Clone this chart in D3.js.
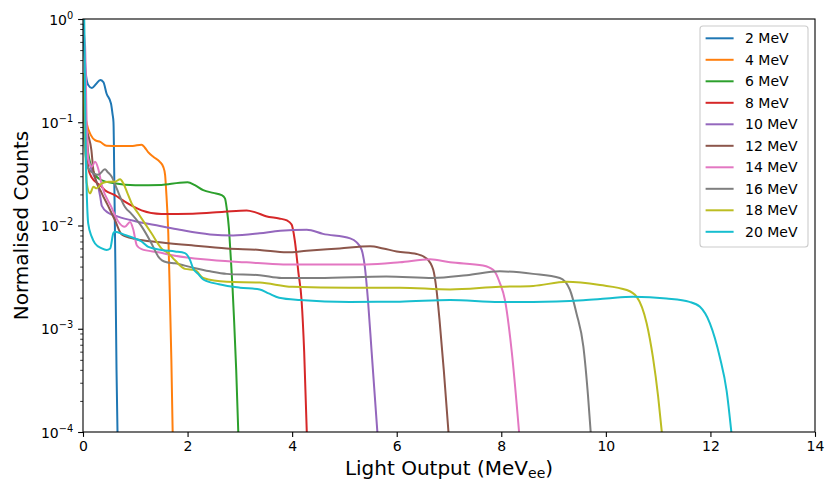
<!DOCTYPE html>
<html><head><meta charset="utf-8">
<script src="https://cdn.jsdelivr.net/npm/d3@7"></script>
<style>body{margin:0;background:#fff} text{font-family:"DejaVu Sans",sans-serif}</style>
</head><body><svg id="c" width="825" height="482"></svg>
<script>
// ---- data ----
const seriesLabels = ["2 MeV","4 MeV","6 MeV","8 MeV","10 MeV","12 MeV","14 MeV","16 MeV","18 MeV","20 MeV"];
const seriesColors = ["#1f77b4","#ff7f0e","#2ca02c","#d62728","#9467bd","#8c564b","#e377c2","#7f7f7f","#bcbd22","#17becf"];

const mev2 = [[0,0.9],[0.03,0.45],[0.06,0.28],[0.1,0.23],[0.17,0.215],[0.25,0.235],[0.33,0.256],[0.39,0.245],[0.45,0.19],[0.535,0.152],[0.565,0.12],[0.583,0.1],[0.602,0.02],[0.621,0.0035],[0.641,0.0004],[0.66,0.0001]];
const mev4 = [[0,0.2],[0.03,0.13],[0.07,0.098],[0.15,0.075],[0.23,0.067],[0.33,0.0645],[0.45,0.0592],[0.7,0.0588],[0.95,0.059],[1.12,0.0605],[1.18,0.057],[1.25,0.051],[1.35,0.046],[1.47,0.0414],[1.535,0.037],[1.57,0.031],[1.59,0.022],[1.631,0.0084],[1.663,0.0019],[1.69,0.0005],[1.715,0.0001]];
const mev6 = [[0,0.15],[0.03,0.1],[0.1,0.05],[0.2,0.033],[0.35,0.0275],[0.6,0.0256],[1.0,0.0245],[1.5,0.0247],[1.85,0.026],[2.0,0.0262],[2.14,0.0246],[2.3,0.022],[2.49,0.0207],[2.65,0.0197],[2.715,0.0183],[2.75,0.0145],[2.79,0.0095],[2.82,0.0055],[2.86,0.0025],[2.89,0.0012],[2.93,0.0004],[2.97,0.0001]];
const mev8 = [[0,0.15],[0.05,0.11],[0.08,0.07],[0.1,0.036],[0.17,0.029],[0.325,0.0246],[0.42,0.022],[0.61,0.0197],[0.8,0.017],[1.12,0.014],[1.5,0.0129],[2.1,0.013],[2.7,0.0136],[3.13,0.014],[3.3,0.0134],[3.5,0.0123],[3.75,0.0117],[3.9,0.0112],[3.99,0.0102],[4.05,0.0072],[4.12,0.0035],[4.18,0.0019],[4.23,0.0006],[4.28,0.0001]];
const mev10 = [[0,0.12],[0.03,0.08],[0.1,0.045],[0.19,0.032],[0.29,0.0237],[0.33,0.019],[0.36,0.0155],[0.48,0.0133],[0.67,0.0122],[1.0,0.011],[1.47,0.0099],[1.85,0.0091],[2.43,0.0082],[2.87,0.008],[3.38,0.0084],[3.77,0.0089],[4.28,0.0091],[4.59,0.0083],[5.11,0.0075],[5.23,0.0069],[5.33,0.0058],[5.39,0.004],[5.45,0.0019],[5.52,0.0006],[5.63,0.0001]];
const mev12 = [[0,0.12],[0.03,0.1],[0.1,0.075],[0.16,0.054],[0.2,0.034],[0.36,0.0205],[0.48,0.0155],[0.61,0.0113],[0.74,0.0082],[1.0,0.0074],[1.47,0.0069],[2.11,0.0064],[2.75,0.006],[3.38,0.0058],[3.9,0.0055],[4.28,0.0057],[4.91,0.006],[5.49,0.0063],[5.74,0.006],[6.0,0.0056],[6.38,0.0053],[6.57,0.0048],[6.7,0.0037],[6.76,0.0024],[6.82,0.0012],[6.9,0.0004],[6.99,0.0001]];
const mev14 = [[0,0.8],[0.04,0.55],[0.07,0.1],[0.1,0.043],[0.167,0.037],[0.23,0.0414],[0.29,0.0357],[0.36,0.0246],[0.55,0.0148],[0.67,0.011],[0.8,0.0097],[0.9,0.0108],[0.96,0.0092],[1.03,0.0064],[1.12,0.0059],[1.44,0.0055],[1.76,0.0051],[2.3,0.0047],[3.13,0.0044],[3.83,0.0042],[4.47,0.0042],[5.42,0.0042],[6.06,0.0044],[6.64,0.0047],[7.02,0.0044],[7.65,0.0041],[7.85,0.0037],[7.97,0.0028],[8.07,0.0019],[8.2,0.0006],[8.34,0.0001]];
const mev16 = [[0,0.1],[0.03,0.06],[0.1,0.036],[0.2,0.032],[0.29,0.031],[0.42,0.035],[0.47,0.033],[0.55,0.0296],[0.64,0.0231],[0.8,0.0152],[0.93,0.0129],[1.12,0.0098],[1.31,0.0067],[1.44,0.005],[1.6,0.0044],[1.76,0.0043],[2.1,0.0039],[2.43,0.0036],[2.75,0.0034],[3.38,0.0033],[3.8,0.0031],[4.5,0.0031],[5.8,0.0032],[6.7,0.0031],[7.34,0.0033],[7.97,0.0036],[8.61,0.0034],[9.12,0.0031],[9.31,0.0024],[9.44,0.0014],[9.57,0.00067],[9.66,0.00022],[9.71,0.0001]];
const mev18 = [[0,0.3],[0.02,0.15],[0.05,0.05],[0.07,0.026],[0.134,0.0205],[0.2,0.0237],[0.26,0.0229],[0.36,0.0256],[0.48,0.0266],[0.61,0.0266],[0.71,0.028],[0.77,0.0256],[0.84,0.0212],[0.93,0.0164],[1.06,0.013],[1.31,0.0084],[1.5,0.006],[1.63,0.0054],[1.76,0.0046],[1.95,0.0038],[2.14,0.0037],[2.3,0.0031],[2.75,0.00285],[3.38,0.0028],[4.0,0.00255],[5.1,0.0025],[6.06,0.0025],[7.02,0.0024],[7.97,0.00255],[8.61,0.0026],[9.25,0.00285],[9.89,0.00265],[10.4,0.00237],[10.59,0.00204],[10.78,0.00113],[10.9,0.00053],[11.0,0.00022],[11.07,0.0001]];
const mev20 = [[0,3],[0.03,0.6],[0.05,0.06],[0.07,0.022],[0.1,0.0104],[0.166,0.0078],[0.23,0.0067],[0.36,0.006],[0.45,0.0058],[0.52,0.006],[0.58,0.0084],[0.61,0.0087],[0.8,0.0081],[0.99,0.0075],[1.12,0.007],[1.25,0.0062],[1.5,0.0058],[1.76,0.0056],[1.95,0.0054],[2.05,0.0046],[2.11,0.0038],[2.2,0.0034],[2.3,0.003],[2.6,0.0027],[3.0,0.0025],[3.38,0.0024],[3.55,0.0022],[3.75,0.002],[4.15,0.0019],[5.1,0.00182],[6.06,0.00183],[7.02,0.0019],[7.97,0.00182],[8.61,0.00182],[9.57,0.00189],[10.01,0.00196],[10.52,0.00204],[11.16,0.00196],[11.6,0.00182],[11.8,0.00163],[11.99,0.00113],[12.18,0.00053],[12.31,0.00025],[12.4,0.0001]];
const seriesValues = [mev2,mev4,mev6,mev8,mev10,mev12,mev14,mev16,mev18,mev20];

const xTicks = [0,2,4,6,8,10,12,14];
const yTicks = [1e-4,1e-3,1e-2,1e-1,1];
const yTickExponents = ["−4","−3","−2","−1","0"];
const xLabel = "Light Output (MeV";
const xLabelSub = "ee";
const yLabel = "Normalised Counts";

// ---- layout ----
const L = 83, R = 815, T = 19, B = 432;
const svg = d3.select("#c");
const x = d3.scaleLinear().domain([0,14]).range([L,R]);
const y = d3.scaleLog().domain([1e-4,1]).range([B,T]);

svg.append("defs").append("clipPath").attr("id","clip")
  .append("rect").attr("x",L).attr("y",T).attr("width",R-L).attr("height",B-T);

// lines
const line = d3.line().x(d=>x(d[0])).y(d=>y(d[1])).curve(d3.curveMonotoneX);
const g = svg.append("g").attr("clip-path","url(#clip)");
seriesValues.forEach((s,i)=>{
  g.append("path").datum(s).attr("d",line).attr("fill","none")
   .attr("stroke",seriesColors[i]).attr("stroke-width",2).attr("stroke-linejoin","round").attr("stroke-linecap","butt");
});

// x axis
const xa = svg.append("g").attr("transform",`translate(0,${B})`)
  .call(d3.axisBottom(x).tickValues(xTicks).tickFormat(d3.format("d")).tickSize(4.9).tickPadding(4.6));
xa.select(".domain").remove();
xa.selectAll("line").attr("stroke","#000").attr("stroke-width",1.1);
xa.selectAll("text").attr("font-size","14px").attr("fill","#000").style("font-family","DejaVu Sans");

// y axis minor
const minor = [];
for (let e=-4;e<0;e++) for (let m=2;m<=9;m++) minor.push(m*Math.pow(10,e));
const ym = svg.append("g").attr("transform",`translate(${L},0)`)
  .call(d3.axisLeft(y).tickValues(minor).tickFormat("").tickSize(2.8));
ym.select(".domain").remove();
ym.selectAll("line").attr("stroke","#000").attr("stroke-width",0.8);

// y axis major
const ya = svg.append("g").attr("transform",`translate(${L},0)`)
  .call(d3.axisLeft(y).tickValues(yTicks).tickFormat("").tickSize(4.9).tickPadding(4.9));
ya.select(".domain").remove();
ya.selectAll("line").attr("stroke","#000").attr("stroke-width",1.1);
ya.selectAll(".tick").each(function(d,i){
  const t = d3.select(this).select("text").attr("font-size","14px").attr("fill","#000")
     .attr("x",-9.8).attr("dy","0.36em").style("font-family","DejaVu Sans");
  t.text(null);
  t.append("tspan").text("10");
  t.append("tspan").attr("font-size","9.8px").attr("dy","-0.6em").text(yTickExponents[yTicks.indexOf(d)]);
});

// frame
svg.append("rect").attr("x",L).attr("y",T).attr("width",R-L).attr("height",B-T)
  .attr("fill","none").attr("stroke","#000").attr("stroke-width",1.1);

// axis labels
const xl = svg.append("text").attr("x",(L+R)/2).attr("y",475).attr("text-anchor","middle")
  .attr("font-size","20px").attr("fill","#000");
xl.append("tspan").text(xLabel);
xl.append("tspan").attr("font-size","14px").attr("dy","3").text(xLabelSub);
xl.append("tspan").attr("dy","-3").text(")");

svg.append("text").attr("transform",`translate(28,${(T+B)/2}) rotate(-90)`)
  .attr("text-anchor","middle").attr("font-size","20px").attr("fill","#000").text(yLabel);

// legend
const lg = svg.append("g");
lg.append("rect").attr("x",700).attr("y",26).attr("width",108).attr("height",221).attr("rx",3)
  .attr("fill","#fff").attr("fill-opacity",0.8).attr("stroke","#cccccc").attr("stroke-width",1.1);
seriesLabels.forEach((lab,i)=>{
  const yy = 38.3 + i*21.5;
  lg.append("line").attr("x1",705.6).attr("x2",733.6).attr("y1",yy).attr("y2",yy)
    .attr("stroke",seriesColors[i]).attr("stroke-width",2);
  lg.append("text").attr("x",745).attr("y",yy).attr("dy","0.36em").attr("font-size","14px").attr("fill","#000").text(lab);
});
</script>
</body></html>
